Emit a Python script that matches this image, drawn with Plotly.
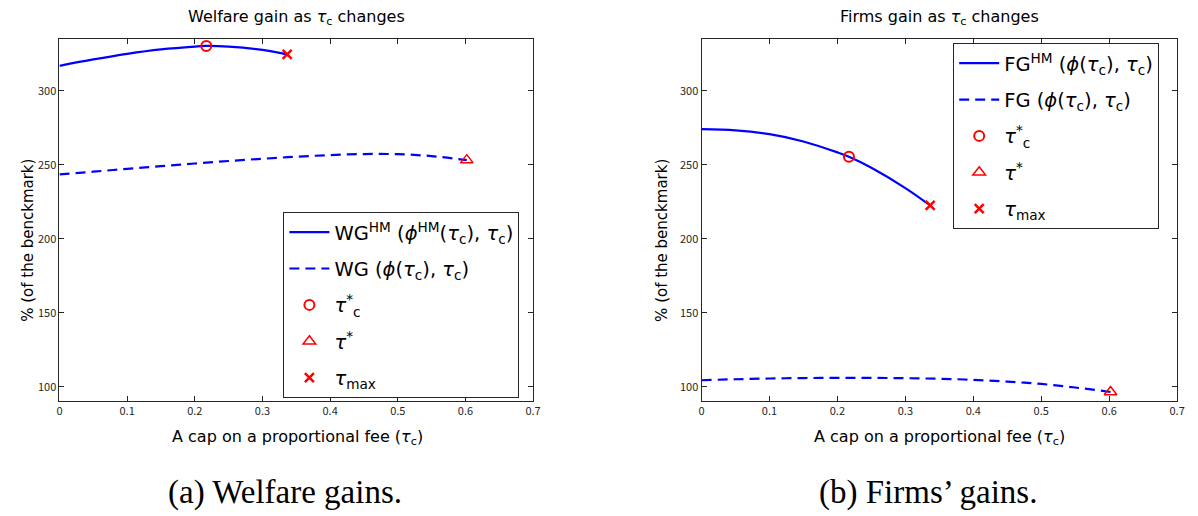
import plotly.graph_objects as go

# ---------------- data ----------------
# Left panel: welfare gains
wg_hm_x = [0.0, 0.05, 0.1, 0.15, 0.2, 0.217, 0.25, 0.3, 0.3365]
wg_hm_y = [316.9, 321.2, 325.0, 328.0, 329.9, 330.3, 329.8, 327.6, 324.6]
wg_x = [0.0, 0.05, 0.1, 0.15, 0.2, 0.25, 0.3, 0.35, 0.4, 0.45, 0.5, 0.55, 0.602]
wg_y = [243.5, 245.4, 247.3, 249.1, 250.9, 252.6, 254.1, 255.5, 256.6, 257.3, 257.2, 255.9, 253.2]

# Right panel: firms' gains
fg_hm_x = [0.0, 0.05, 0.1, 0.15, 0.2, 0.217, 0.25, 0.3, 0.3365]
fg_hm_y = [274.1, 273.3, 270.7, 265.8, 258.4, 255.4, 248.0, 234.3, 222.6]
fg_x = [0.0, 0.05, 0.1, 0.15, 0.2, 0.25, 0.3, 0.35, 0.4, 0.45, 0.5, 0.55, 0.602]
fg_y = [104.5, 105.2, 105.7, 106.0, 106.1, 106.1, 105.9, 105.5, 104.8, 103.6, 102.0, 99.6, 96.6]

# Special points
tau_c_star = 0.217
tau_star = 0.602
tau_max = 0.3365
wg_pts = {"tcs": 330.3, "ts": 253.2, "tmax": 324.6}
fg_pts = {"tcs": 255.4, "ts": 96.6, "tmax": 222.6}

x_ticks = [0, 0.1, 0.2, 0.3, 0.4, 0.5, 0.6, 0.7]
x_ticklabels = ["0", "0.1", "0.2", "0.3", "0.4", "0.5", "0.6", "0.7"]
y_ticks = [100, 150, 200, 250, 300]

# ---------------- styling ----------------
W, H = 1198, 516
FONT = "DejaVu Sans"
TICKFONT = "Noto Sans CJK JP"
BLUE = "#0000ff"
RED = "#ff0000"
AX = "#262626"
TAU = "<i>τ</i>"
PHI = "<i>ϕ</i>"

fig = go.Figure()


def add_panel(xa, ya, legend, hm_x, hm_y, d_x, d_y, pts, hm_name, d_name):
    g = legend + "_"
    fig.add_trace(go.Scatter(x=hm_x, y=hm_y, mode="lines", name=hm_name, legendgroup=g + "1",
                             line=dict(color=BLUE, width=2.2, shape="spline"),
                             xaxis=xa, yaxis=ya, legend=legend))
    fig.add_trace(go.Scatter(x=d_x, y=d_y, mode="lines", name=d_name, legendgroup=g + "2",
                             line=dict(color=BLUE, width=2.2, dash="10px,6px", shape="spline"),
                             xaxis=xa, yaxis=ya, legend=legend))
    fig.add_trace(go.Scatter(x=[tau_c_star], y=[pts["tcs"]], mode="markers", legendgroup=g + "3",
                             name=TAU + "<sup>*</sup><sub>c</sub>",
                             marker=dict(symbol="circle-open", size=10, color=RED,
                                         line=dict(width=2, color=RED)),
                             xaxis=xa, yaxis=ya, legend=legend))
    fig.add_trace(go.Scatter(x=[tau_star], y=[pts["ts"]], mode="markers", legendgroup=g + "4",
                             name=TAU + "<sup>*</sup>",
                             marker=dict(symbol="triangle-up-open", size=11, color=RED,
                                         line=dict(width=1.5, color=RED)),
                             xaxis=xa, yaxis=ya, legend=legend))
    fig.add_trace(go.Scatter(x=[tau_max], y=[pts["tmax"]], mode="markers", legendgroup=g + "5",
                             name=TAU + "<sub>max</sub>",
                             marker=dict(symbol="x-thin", size=9, color=RED,
                                         line=dict(width=2.5, color=RED)),
                             xaxis=xa, yaxis=ya, legend=legend))


add_panel("x", "y", "legend", wg_hm_x, wg_hm_y, wg_x, wg_y, wg_pts,
          "WG<sup>HM</sup> (" + PHI + "<sup>HM</sup>(" + TAU + "<sub>c</sub>), " + TAU + "<sub>c</sub>)",
          "WG (" + PHI + "(" + TAU + "<sub>c</sub>), " + TAU + "<sub>c</sub>)")
add_panel("x2", "y2", "legend2", fg_hm_x, fg_hm_y, fg_x, fg_y, fg_pts,
          "FG<sup>HM</sup> (" + PHI + "(" + TAU + "<sub>c</sub>), " + TAU + "<sub>c</sub>)",
          "FG (" + PHI + "(" + TAU + "<sub>c</sub>), " + TAU + "<sub>c</sub>)")

axis_common = dict(showline=True, linecolor=AX, linewidth=1, mirror="ticks",
                   ticks="inside", ticklen=5, tickcolor=AX, showgrid=False,
                   zeroline=False, tickfont=dict(family=TICKFONT, size=11, color=AX))

ytop, ybot = 39, 401
ydom = [1 - ybot / H, 1 - ytop / H]
xdom1 = [57 / W, 535 / W]
xdom2 = [705 / W, 1185 / W]

legend_common = dict(xanchor="left", yanchor="top", bordercolor=AX, borderwidth=1,
                     bgcolor="white", font=dict(family=FONT, size=19.5, color="black"),
                     tracegroupgap=8, itemwidth=40)

fig.update_layout(
    width=W, height=H,
    margin=dict(l=0, r=0, t=0, b=0),
    paper_bgcolor="white", plot_bgcolor="white",
    font=dict(family=FONT, color="black"),
    xaxis=dict(domain=xdom1, range=[0, 0.7], tickvals=x_ticks, ticktext=x_ticklabels, anchor="y", **axis_common),
    yaxis=dict(domain=ydom, range=[90.5, 335], tickvals=y_ticks, anchor="x", **axis_common),
    xaxis2=dict(domain=xdom2, range=[0, 0.7], tickvals=x_ticks, ticktext=x_ticklabels, anchor="y2", **axis_common),
    yaxis2=dict(domain=ydom, range=[90.5, 335], tickvals=y_ticks, anchor="x2", **axis_common),
    legend=dict(x=283 / W, y=1 - 212 / H, **legend_common),
    legend2=dict(x=959 / W, y=1 - 43 / H, **legend_common),
    showlegend=True,
)


def paper_text(text, xp, yp, size, family=FONT, angle=0, yanchor="middle"):
    return dict(text=text, x=xp / W, y=1 - yp / H, xref="paper", yref="paper",
                xanchor="center", yanchor=yanchor, showarrow=False, textangle=angle,
                font=dict(family=family, size=size, color="black"))


ann = []
ann.append(paper_text("Welfare gain as " + TAU + "<sub>c</sub> changes", 296, 5, 16, yanchor="top"))
ann.append(paper_text("Firms gain as " + TAU + "<sub>c</sub> changes", 945, 5, 16, yanchor="top"))
ann.append(paper_text("A cap on a proportional fee (" + TAU + "<sub>c</sub>)", 297, 425, 16, yanchor="top"))
ann.append(paper_text("A cap on a proportional fee (" + TAU + "<sub>c</sub>)", 945, 425, 16, yanchor="top"))
ann.append(paper_text("% (of the benckmark)", 25, 240, 15, angle=-90))
ann.append(paper_text("% (of the benckmark)", 665, 240, 15, angle=-90))
ann.append(paper_text("(a) Welfare gains.", 285, 492, 33, family="Liberation Serif"))
ann.append(paper_text("(b) Firms’ gains.", 934, 492, 33, family="Liberation Serif"))
fig.update_layout(annotations=ann)

fig.write_html("out.html")
